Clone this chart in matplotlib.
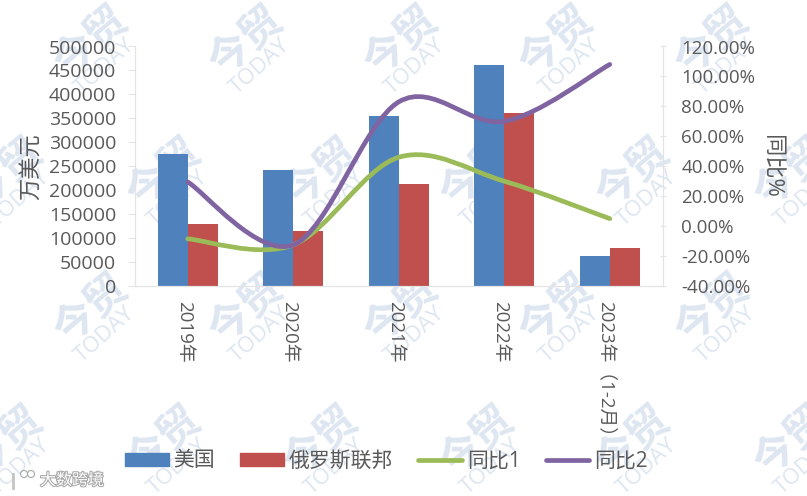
import numpy as np
import matplotlib
matplotlib.use('Agg')
import matplotlib.pyplot as plt
import matplotlib.patheffects as pe
from matplotlib.lines import Line2D
from matplotlib.patches import Patch, PathPatch, Ellipse
from matplotlib.path import Path

plt.rcParams['font.family'] = ['Open Sans', 'Noto Sans CJK SC', 'DejaVu Sans']

W, H = 807, 496
BLUE = '#4f81bd'
RED = '#c0504d'
GREEN = '#9bbb59'
PURPLE = '#8064a2'
TEXT = '#595959'
AXIS = '#e4e4e4'
MARK = '#dde6f1'

# data
years = ['2019年', '2020年', '2021年', '2022年', '2023年（1-2月）']
usa = [275000, 243000, 355000, 461000, 63000]
russia = [130000, 115000, 212000, 362000, 80000]
yoy1 = [-8.5, -12.5, 46, 30, 5]
yoy2 = [29.5, -12.5, 83, 70, 108]
left_ticks = [0, 50000, 100000, 150000, 200000, 250000, 300000, 350000, 400000, 450000, 500000]
right_ticks = [-40, -20, 0, 20, 40, 60, 80, 100, 120]

# watermark grid, pixels
mark_rows = [50, 182, 318, 450]
mark_xs_odd = [95, 250, 405, 560, 716]
mark_xs_even = [10, 168, 325, 481, 637, 795]


def smooth_path(xs, ys):
    # excel style smoothed line, one bezier per segment
    pts = np.column_stack([xs, ys]).astype(float)
    verts = [pts[0]]
    codes = [Path.MOVETO]
    for i in range(len(pts) - 1):
        p0 = pts[max(i - 1, 0)]
        p1 = pts[i]
        p2 = pts[i + 1]
        p3 = pts[min(i + 2, len(pts) - 1)]
        verts += [p1 + (p2 - p0) / 6, p2 - (p3 - p1) / 6, p2]
        codes += [Path.CURVE4] * 3
    return Path(verts, codes)


fig = plt.figure(figsize=(W / 100, H / 100), dpi=100)

# watermarks sit under the chart
for row, py in enumerate(mark_rows):
    for px in (mark_xs_even if row % 2 else mark_xs_odd):
        fig.text((px - 3) / W, 1 - (py - 8) / H, '今贸', fontsize=30, color=MARK, rotation=40,
                 ha='center', va='center', fontweight='bold', zorder=0)
        fig.text((px + 10) / W, 1 - (py + 17) / H, 'TODAY', fontsize=16, color=MARK, rotation=42,
                 ha='center', va='center', zorder=0)

ax = fig.add_axes([135 / W, 1 - 286 / H, 527.5 / W, 239.5 / H], zorder=2)
ax.patch.set_alpha(0)
x = np.arange(len(years))
bar_w = 0.285
ax.bar(x - bar_w / 2, usa, bar_w, color=BLUE, zorder=2)
ax.bar(x + bar_w / 2, russia, bar_w, color=RED, zorder=2)
ax.set_xlim(-0.5, 4.5)
ax.set_ylim(0, 500000)
ax.set_yticks(left_ticks)
# rotated labels sit a little right of the tick, ticks are hidden so nudge them
ax.set_xticks(x - 0.038)
ax.set_xticklabels(years, rotation=270, rotation_mode='anchor', fontsize=13.5, color=TEXT,
                   va='center', ha='left')
ax.tick_params(axis='y', labelsize=14, labelcolor=TEXT, color=AXIS, length=5, pad=8.5)
ax.tick_params(axis='x', length=0, pad=11)
ax.set_ylabel('万美元', fontsize=16, color=TEXT, va='center')
ax.yaxis.set_label_coords((32 - 135) / 527.5, 0.5)

ax2 = ax.twinx()
ax2.set_ylim(-40, 120)
ax2.set_yticks(right_ticks)
ax2.set_yticklabels(['%.2f%%' % t for t in right_ticks])
ax2.tick_params(axis='y', labelsize=13.5, labelcolor=TEXT, color=AXIS, length=5, pad=11, direction='inout')
ax2.set_ylabel('同比%', fontsize=16, color=TEXT, rotation=270, va='center')
ax2.yaxis.set_label_coords((771 - 135) / 527.5, 0.5)
ax2.add_patch(PathPatch(smooth_path(x, yoy1), fill=False, edgecolor=GREEN, lw=3.4, capstyle='round', zorder=3))
ax2.add_patch(PathPatch(smooth_path(x, yoy2), fill=False, edgecolor=PURPLE, lw=3.4, capstyle='round', zorder=4))

for a in (ax, ax2):
    a.spines['top'].set_visible(False)
    for side in ('left', 'right', 'bottom'):
        a.spines[side].set_color(AXIS)

handles = [Patch(color=BLUE), Patch(color=RED),
           Line2D([], [], color=GREEN, lw=3.4, solid_capstyle='round'),
           Line2D([], [], color=PURPLE, lw=3.4, solid_capstyle='round')]
fig.legend(handles, ['美国', '俄罗斯联邦', '同比1', '同比2'], ncol=4, frameon=False,
           fontsize=15, labelcolor=TEXT, handlelength=2.1, handleheight=0.58,
           handletextpad=0.23, columnspacing=1.2, loc='center left',
           bbox_to_anchor=(125 / W, 1 - 461 / H), borderpad=0, borderaxespad=0)

# source logo, bottom left
outline = [pe.withStroke(linewidth=1.5, foreground='#a8a8a8')]
fig.text(40 / W, 1 - 481 / H, '大数跨境', fontsize=11.5, color='white', va='center', path_effects=outline)
for cx in (24, 31):
    fig.add_artist(Ellipse((cx / W, 1 - 474 / H), 7 / W, 7 / H, fill=False, edgecolor='#a8a8a8',
                           lw=0.8, transform=fig.transFigure))
fig.add_artist(Line2D([13 / W, 13 / W], [1 - 474 / H, 1 - 488 / H], color='#c4c4c4', lw=2,
                      transform=fig.transFigure))

fig.savefig('out.png', dpi=100)
